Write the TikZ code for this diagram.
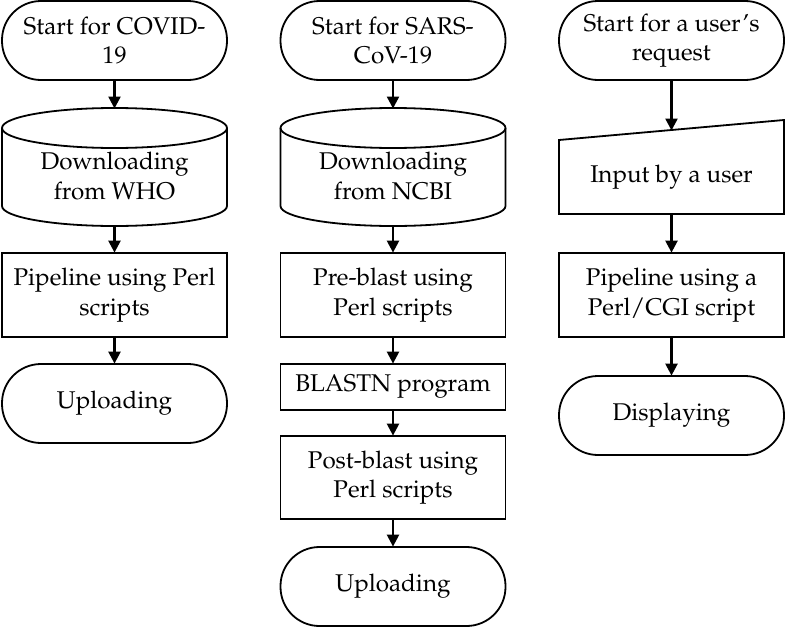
\documentclass[tikz,border=0pt]{standalone}
\usepackage[T1]{fontenc}
\usepackage{mathpazo}
\usetikzlibrary{arrows.meta}
\begin{document}
\begin{tikzpicture}[x=1pt,y=1pt,line width=1.8pt,
  lbl/.style={align=center,font=\fontsize{24.2}{29.5}\selectfont,inner sep=0pt},
  term/.style={lbl,draw,rounded corners=39pt,minimum width=225pt,minimum height=79pt},
  proc/.style={lbl,draw,minimum width=225pt,minimum height=84pt},
  arr/.style={-{Triangle[width=12pt,length=12pt]},line width=2.4pt,shorten >=-0.5pt}]
\useasboundingbox (0,0) rectangle (786,-629);
% ---------- column 1
\node[term] (s1) at (114.5,-40.5) {Start for COVID-\\19};
\draw (114.5,-128) ellipse [x radius=112.5pt,y radius=20pt];
\draw (2,-128) -- (2,-206) arc[start angle=180,end angle=360,x radius=112.5pt,y radius=20pt] -- (227,-128);
\node[lbl] (c1) at (114.5,-176) {Downloading\\from WHO};
\coordinate (c1t) at (114.5,-108);
\coordinate (c1b) at (114.5,-226);
\node[proc] (p1) at (114.5,-295) {Pipeline using Perl\\scripts};
\node[term] (u1) at (114.5,-403.5) {Uploading};
\draw[arr] (s1.south) -- (c1t);
\draw[arr] (c1b) -- (p1.north);
\draw[arr] (p1.south) -- (u1.north);
% ---------- column 2
\node[term] (s2) at (393,-40.5) {Start for SARS-\\CoV-19};
\draw (393,-128) ellipse [x radius=112.5pt,y radius=20pt];
\draw (280.5,-128) -- (280.5,-206) arc[start angle=180,end angle=360,x radius=112.5pt,y radius=20pt] -- (505.5,-128);
\node[lbl] (c2) at (393,-176) {Downloading\\from NCBI};
\coordinate (c2t) at (393,-108);
\coordinate (c2b) at (393,-226);
\node[proc] (p2) at (393,-295) {Pre-blast using\\Perl scripts};
\node[proc,minimum height=46pt] (b2) at (393,-387) {BLASTN program};
\node[proc,minimum height=83pt] (q2) at (393,-477.5) {Post-blast using\\Perl scripts};
\node[term] (u2) at (393,-586.5) {Uploading};
\draw[arr] (s2.south) -- (c2t);
\draw[arr] (c2b) -- (p2.north);
\draw[arr] (p2.south) -- (b2.north);
\draw[arr] (b2.south) -- (q2.north);
\draw[arr] (q2.south) -- (u2.north);
% ---------- column 3
\node[term] (s3) at (671.5,-40.5) {Start for a user's\\request};
\draw (559,-140) -- (784,-120) -- (784,-214) -- (559,-214) -- cycle;
\node[lbl] (i3) at (671.5,-177) {Input by a user};
\coordinate (i3t) at (671.5,-130);
\coordinate (i3b) at (671.5,-214);
\node[proc] (p3) at (671.5,-295) {Pipeline using a\\Perl/CGI script};
\node[term] (d3) at (671.5,-415.5) {Displaying};
\draw[arr] (s3.south) -- (i3t);
\draw[arr] (i3b) -- (p3.north);
\draw[arr] (p3.south) -- (d3.north);
\end{tikzpicture}
\end{document}
